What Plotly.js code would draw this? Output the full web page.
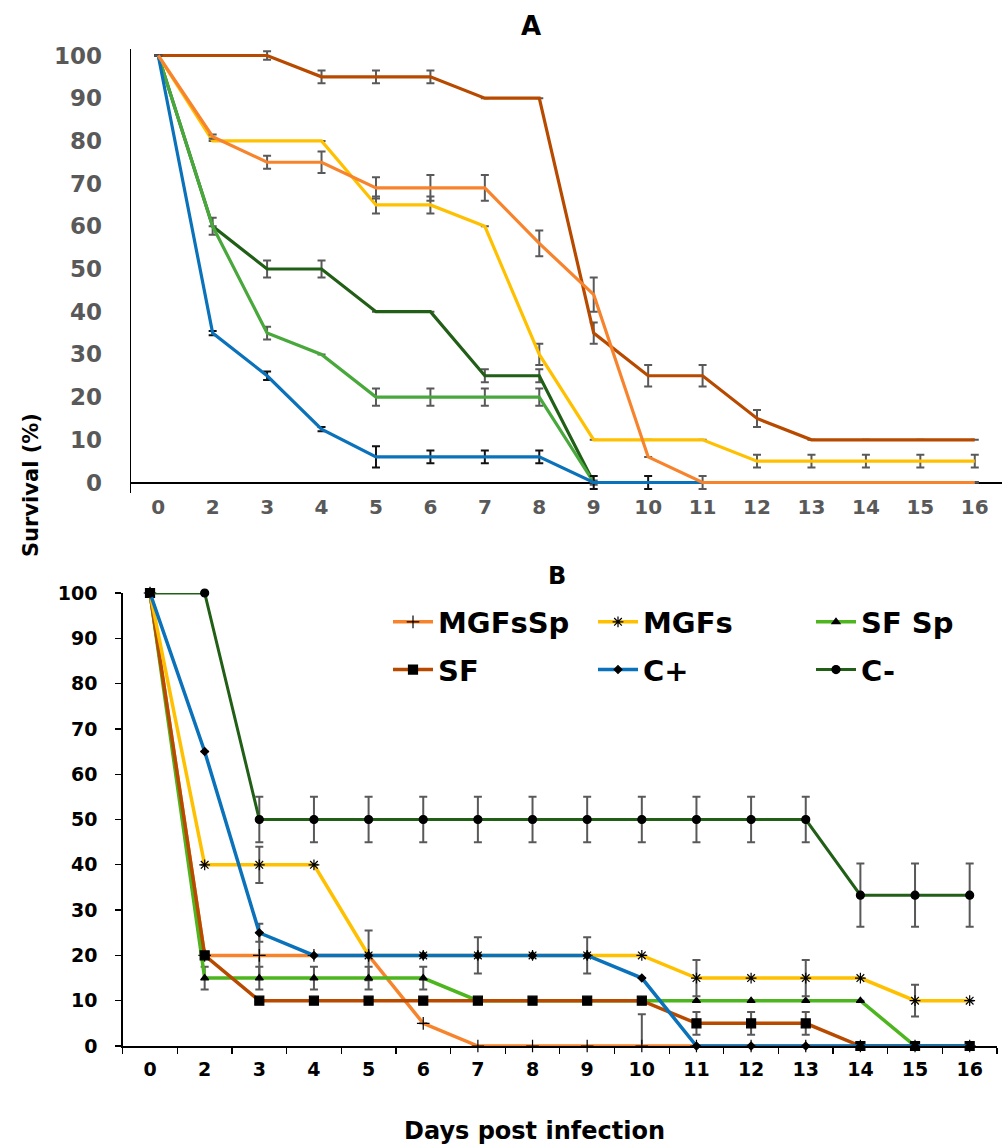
<!DOCTYPE html>
<html>
<head>
<meta charset="utf-8">
<script src="https://cdn.plot.ly/plotly-3.0.1.min.js"></script>
<style>html,body{margin:0;padding:0;background:#fff;}#chart{width:1002px;height:1144px;}</style>
</head>
<body>
<div id="chart"></div>
<script>
// Categories (days post infection)
const days = ['0','2','3','4','5','6','7','8','9','10','11','12','13','14','15','16'];
const seriesNames = ['MGFsSp','MGFs','SF Sp','SF','C+','C-'];

// Panel A survival (%)
const aMGFsSp = [100,81,75,75,69,69,69,56,44,6,0,0,0,0,0,0];
const aMGFs   = [100,80,80,80,65,65,60,30,10,10,10,5,5,5,5,5];
const aSFSp   = [100,60,35,30,20,20,20,20,0,0,0,0,0,0,0,0];
const aSF     = [100,100,100,95,95,95,90,90,35,25,25,15,10,10,10,10];
const aCpos   = [100,35,25,12.5,6,6,6,6,0,0,0,0,0,0,0,0];
const aCneg   = [100,60,50,50,40,40,25,25,0,0,0,0,0,0,0,0];
// Panel A error bars
const eaMGFsSp = [null,0.5,1.5,2.5,2.5,3,3,3,4,null,1.5,null,null,null,null,null];
const eaMGFs   = [null,null,null,null,2,2,null,2.5,null,null,null,1.5,1.5,1.5,1.5,1.5];
const eaSFSp   = [null,null,1.5,null,2,2,2,2,null,null,null,null,null,null,null,null];
const eaSF     = [null,null,1,1.5,1.5,1.5,null,null,2.5,2.5,2.5,2,null,null,null,null];
const eaCpos   = [null,0.5,1,0.5,2.5,1.5,1.5,1.5,1.5,1.5,null,null,null,null,null,null];
const eaCneg   = [null,2,2,2,null,null,1.5,1.5,0.5,null,null,null,null,null,null,null];

// Panel B survival (%)
const bMGFsSp = [100,20,20,20,20,5,0,0,0,0,0,0,0,0,0,0];
const bMGFs   = [100,40,40,40,20,20,20,20,20,20,15,15,15,15,10,10];
const bSFSp   = [100,15,15,15,15,15,10,10,10,10,10,10,10,10,0,0];
const bSF     = [100,20,10,10,10,10,10,10,10,10,5,5,5,0,0,0];
const bCpos   = [100,65,25,20,20,20,20,20,20,15,0,0,0,0,0,0];
const bCneg   = [100,100,50,50,50,50,50,50,50,50,50,50,50,33.3,33.3,33.3];
// Panel B error bars
const ebMGFsSp      = [null,null,5,null,5.5,null,null,null,null,7,null,null,null,null,null,null];
const ebMGFsSpMinus = [null,null,5,null,5.5,null,null,null,null,0,null,null,null,null,null,null];
const ebMGFs   = [null,null,4,null,null,null,4,null,4,null,4,null,4,null,3.5,null];
const ebSFSp   = [null,2.5,2.5,2.5,2.5,2.5,null,null,null,null,null,null,null,null,null,null];
const ebSF     = [null,null,null,null,null,null,null,null,null,null,2.5,2.5,2.5,null,null,null];
const ebCpos   = [null,null,2,null,null,null,null,null,null,null,null,null,null,null,null,null];
const ebCneg   = [null,null,5,5,5,5,5,5,5,5,5,5,5,7,7,7];

const C = {
  MGFsSp:'#F7842D', MGFs:'#FFC000', SFSpA:'#48A83C', SFSpB:'#4DB51E',
  SF:'#B84A00', Cpos:'#0A72BA', Cneg:'#215E16'
};
const GREY = '#595959';
const FONT = 'DejaVu Sans';
const W = 1002, H = 1144;
const px = v => v / W, py = v => 1 - v / H;

function errA(arr, color){
  return {type:'data', array:arr, visible:true, color:color, thickness:2, width:4};
}
function lineA(y, name, color, err, ecolor){
  return {x:days, y:y, name:name, type:'scatter', mode:'lines', xaxis:'x', yaxis:'y',
    line:{color:color, width:3.2}, showlegend:false, hoverinfo:'skip',
    error_y: errA(err, ecolor || GREY)};
}
const tracesA = [
  lineA(aCneg, 'C-', C.Cneg, eaCneg),
  lineA(aSFSp, 'SF Sp', C.SFSpA, eaSFSp),
  lineA(aSF, 'SF', C.SF, eaSF),
  lineA(aMGFs, 'MGFs', C.MGFs, eaMGFs),
  lineA(aCpos, 'C+', C.Cpos, eaCpos, '#111111'),
  lineA(aMGFsSp, 'MGFsSp', C.MGFsSp, eaMGFsSp)
];

function lineB(y, name, color, err, sym, size, legend, rank, lw, errMinus){
  const e = {type:'data', array:err, visible:true, color:GREY, thickness:2, width:4};
  if(errMinus){ e.symmetric = false; e.arrayminus = errMinus; }
  return {x:days, y:y, name:name, type:'scatter', mode:'lines+markers', xaxis:'x2', yaxis:'y2',
    line:{color:color, width:lw || 3.5},
    marker:{symbol:sym, size:size, color:'#000000', line:{color:'#000000', width:1.2}},
    legend:legend, legendrank:rank, legendgroup:name, cliponaxis:false, hoverinfo:'skip', error_y:e};
}
const tracesB = [
  lineB(bMGFsSp, 'MGFsSp', C.MGFsSp, ebMGFsSp, 'cross-thin-open', 9, 'legend', 1, 3.5, ebMGFsSpMinus),
  lineB(bSFSp, 'SF Sp', C.SFSpB, ebSFSp, 'triangle-up', 7, 'legend3', 1),
  lineB(bSF, 'SF', C.SF, ebSF, 'square', 9, 'legend', 2),
  lineB(bMGFs, 'MGFs', C.MGFs, ebMGFs, 'asterisk-open', 9, 'legend2', 1),
  lineB(bCpos, 'C+', C.Cpos, ebCpos, 'diamond', 6, 'legend2', 2),
  lineB(bCneg, 'C-', C.Cneg, ebCneg, 'circle', 8, 'legend3', 2, 3)
];

function legendAt(xLeft){
  return {
    orientation:'v', xref:'paper', yref:'paper', xanchor:'left', yanchor:'middle',
    x:px(xLeft), y:py(646), bgcolor:'rgba(0,0,0,0)', borderwidth:0,
    tracegroupgap:7, itemwidth:40, traceorder:'grouped',
    font:{family:FONT, size:29, color:'#000', weight:'bold'}
  };
}

const layout = {
  width:W, height:H, margin:{l:0, r:0, t:0, b:0},
  paper_bgcolor:'#fff', plot_bgcolor:'#fff',
  font:{family:FONT, weight:'bold'},
  xaxis:{domain:[px(131), 1], type:'category', range:[-0.5, 15.5], showgrid:false,
    showline:false, zeroline:false, ticks:'', anchor:'y',
    tickfont:{family:FONT, size:20, color:GREY, weight:'bold'}},
  yaxis:{domain:[py(493.2), py(49.1)], range:[-2.5, 101.5], showgrid:false,
    showline:true, linecolor:'#000', linewidth:1.5, zeroline:true, zerolinecolor:'#000',
    zerolinewidth:2, ticks:'', tickvals:[0,10,20,30,40,50,60,70,80,90,100], anchor:'x',
    ticklabelstandoff:23, tickfont:{family:FONT, size:23, color:GREY, weight:'bold'}},
  xaxis2:{domain:[px(122.7), px(997)], type:'category', range:[-0.5, 15.5], showgrid:false,
    showline:true, linecolor:'#000', linewidth:1.5, zeroline:false, anchor:'y2',
    ticks:'outside', tickson:'boundaries', ticklen:6, tickcolor:'#000', tickwidth:1.2,
    ticklabelstandoff:6, tickfont:{family:FONT, size:19, color:'#000', weight:'bold'}},
  yaxis2:{domain:[py(1046), py(593)], range:[0, 100], showgrid:false,
    showline:true, linecolor:'#000', linewidth:1.5, zeroline:false, anchor:'x2',
    ticks:'outside', ticklen:6, tickcolor:'#000', tickwidth:1.2, dtick:10,
    ticklabelstandoff:14, tickfont:{family:FONT, size:19, color:'#000', weight:'bold'}},
  legend:legendAt(388),
  legend2:legendAt(593),
  legend3:legendAt(811),
  showlegend:true,
  annotations:[
    {text:'A', x:px(531), y:py(26), xref:'paper', yref:'paper', showarrow:false,
      xanchor:'center', yanchor:'middle', font:{family:FONT, size:26, color:'#000', weight:'bold'}},
    {text:'B', x:px(557), y:py(576), xref:'paper', yref:'paper', showarrow:false,
      xanchor:'center', yanchor:'middle', font:{family:FONT, size:24, color:'#000', weight:'bold'}},
    {text:'Survival (%)', x:px(31), y:py(485), xref:'paper', yref:'paper', showarrow:false,
      textangle:-90, xanchor:'center', yanchor:'middle',
      font:{family:FONT, size:21, color:'#000', weight:'bold'}},
    {text:'Days post infection', x:px(534), y:py(1131), xref:'paper', yref:'paper', showarrow:false,
      xanchor:'center', yanchor:'middle', font:{family:FONT, size:24, color:'#000', weight:'bold'}}
  ]
};

Plotly.newPlot('chart', tracesA.concat(tracesB), layout, {staticPlot:true, displayModeBar:false});
</script>
</body>
</html>
